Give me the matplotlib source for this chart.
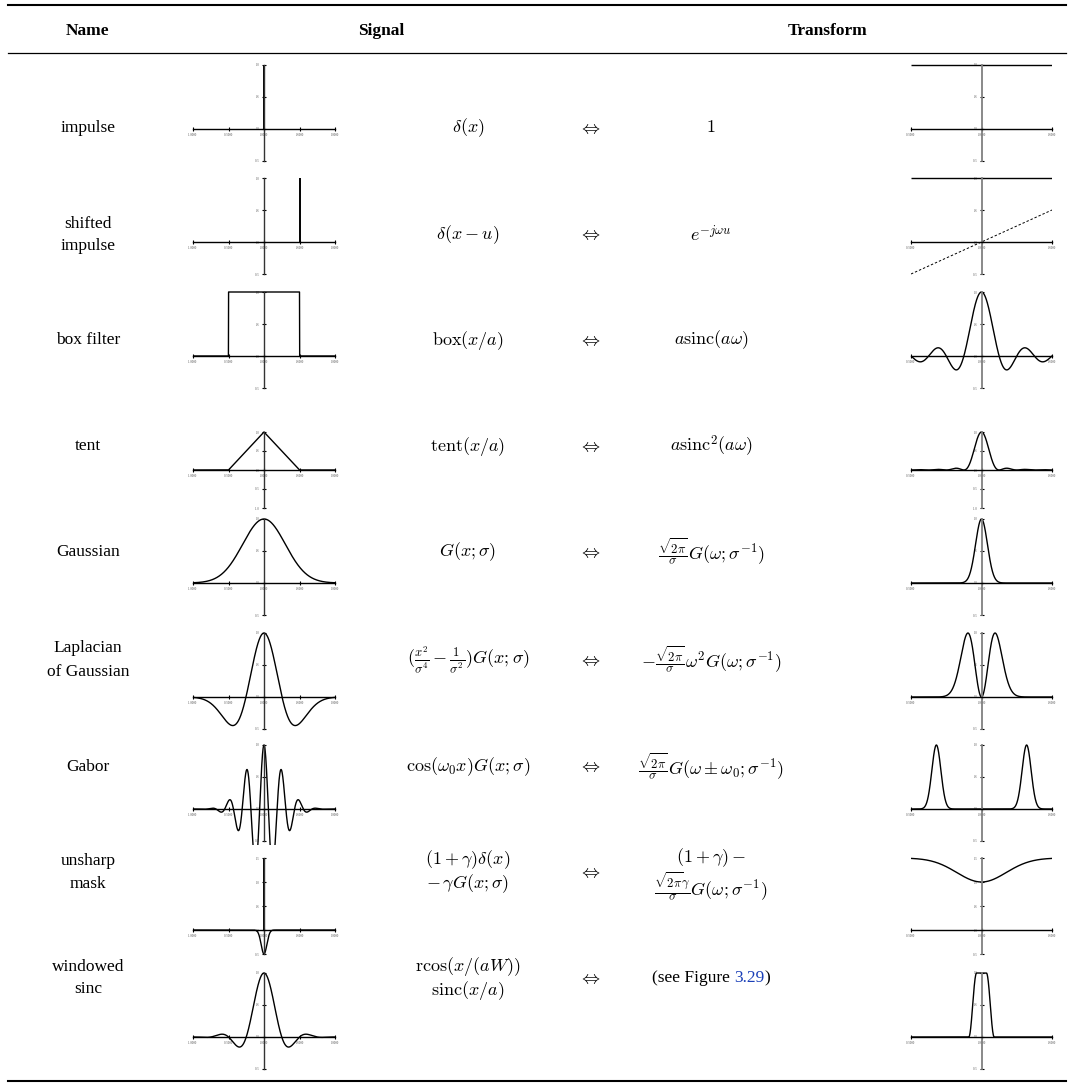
import numpy as np
import matplotlib
matplotlib.use('Agg')
import matplotlib.pyplot as plt
from matplotlib.lines import Line2D

plt.rcParams['font.family'] = ['Liberation Serif', 'DejaVu Serif']
plt.rcParams['mathtext.fontset'] = 'cm'

W, H = 1074, 1084

# ---- table contents ----
headers = ['Name', 'Signal', 'Transform']
names = [['impulse'], ['shifted', 'impulse'], ['box filter'], ['tent'], ['Gaussian'],
         ['Laplacian', 'of Gaussian'], ['Gabor'], ['unsharp', 'mask'], ['windowed', 'sinc']]
signal_tex = [[r'$\delta(x)$'], [r'$\delta(x-u)$'], [r'$\mathrm{box}(x/a)$'],
              [r'$\mathrm{tent}(x/a)$'], [r'$G(x;\sigma)$'],
              [r'$(\frac{x^2}{\sigma^4}-\frac{1}{\sigma^2})G(x;\sigma)$'],
              [r'$\cos(\omega_0 x)G(x;\sigma)$'],
              [r'$(1+\gamma)\delta(x)$', r'$-\,\gamma G(x;\sigma)$'],
              [r'$\mathrm{rcos}(x/(aW))$', r'$\mathrm{sinc}(x/a)$']]
transform_tex = [[r'$1$'], [r'$e^{-j\omega u}$'], [r'$a\mathrm{sinc}(a\omega)$'],
                 [r'$a\mathrm{sinc}^2(a\omega)$'],
                 [r'$\frac{\sqrt{2\pi}}{\sigma}G(\omega;\sigma^{-1})$'],
                 [r'$-\frac{\sqrt{2\pi}}{\sigma}\omega^2G(\omega;\sigma^{-1})$'],
                 [r'$\frac{\sqrt{2\pi}}{\sigma}G(\omega\pm\omega_0;\sigma^{-1})$'],
                 [r'$(1+\gamma)-$', r'$\frac{\sqrt{2\pi}\gamma}{\sigma}G(\omega;\sigma^{-1})$'],
                 None]

signal_xticks = [-1.0, -0.5, 0.0, 0.5, 1.0]
transform_xticks = [-0.5, 0.0, 0.5]
# y range of each row's pair of plots
row_ylims = [(-0.5, 1.0), (-0.5, 1.0), (-0.5, 1.0), (-1.0, 1.0), (-0.5, 1.0),
             (-0.5, 1.0), (-0.5, 1.0), (-0.5, 1.5), (-0.5, 1.0)]

# curve parameters
shift_u = 0.5
box_half = 0.5
tent_half = 0.5
gauss_sigma = 0.30
log_sigma = 0.254
gabor_sigma = 0.2475
gabor_period = 0.246
unsharp_gamma = 0.5
unsharp_sigma = 0.04
wsinc_zero = 0.25
window_half = 1.0

phase_slope = 1.0
box_freq_zero = 0.125
gauss_freq_sigma = 0.042
log_freq_sigma = 0.068
gabor_freq_center = 0.32
gabor_freq_sigma = 0.032
unsharp_freq_sigma = 0.175
wsinc_pass = 0.035
wsinc_stop = 0.09

# ---- layout (pixels) ----
name_x, sig_tex_x, arrow_x, tr_tex_x = 88, 468, 589, 711
sig_x0, sig_x1 = 193, 335
tr_x0, tr_x1 = 911, 1052
axis_py = [129, 242, 356, 470, 583, 697, 809, 930, 1037]
plot_px_h = [96, 96, 96, 76, 96, 96, 96, 96, 96]
text_py = [[128], [224, 246], [340], [446], [552], [648, 672], [767], [861, 884], [967, 989]]
sig_tex_py = [[128], [235], [340], [446], [552], [660], [767], [860, 884], [966, 990]]
tr_tex_py = [[128], [235], [340], [446], [552], [660], [767], [858, 887], [978]]
arrow_py = [129, 236, 341, 447, 553, 661, 768, 873, 979]

fig = plt.figure(figsize=(W / 100, H / 100), dpi=100)


def fx(px):
    return px / W


def fy(py):
    return 1 - py / H


def mini_axes(px0, px1, xlim, ypx, ylim, hpx, xticks, ygray):
    lo, hi = ylim
    ppu = hpx / (hi - lo)
    pad = 0.04 * (hi - lo)
    top = ypx - (hi + pad) * ppu
    bot = ypx - (lo - pad) * ppu
    ax = fig.add_axes([fx(px0), fy(bot), fx(px1) - fx(px0), (bot - top) / H])
    ax.set_xlim(*xlim)
    ax.set_ylim(lo - pad, hi + pad)
    ax.patch.set_visible(False)
    for s in ['top', 'right']:
        ax.spines[s].set_visible(False)
    ax.spines['left'].set_position(('data', 0))
    ax.spines['bottom'].set_position(('data', 0))
    ax.spines['left'].set_bounds(lo, hi)
    ax.spines['bottom'].set_bounds(*xlim)
    ax.spines['bottom'].set_linewidth(1.0)
    ax.spines['left'].set_linewidth(1.3 if ygray else 1.0)
    ax.spines['left'].set_color('0.5' if ygray else '0.2')
    yticks = np.arange(lo, hi + 0.01, 0.5)
    ax.set_xticks(xticks)
    ax.set_yticks(yticks)
    ax.set_xticklabels(['%.4f' % t for t in xticks])
    ax.set_yticklabels(['%.1f' % t for t in yticks])
    ax.tick_params(direction='inout', length=3, width=0.8, labelsize=2.2,
                   pad=1.5, colors='black', labelcolor='0.3')
    return ax


xs = np.linspace(-1, 1, 1601)
ws = np.linspace(-0.5, 0.5, 1601)
lw = 1.0
k = 'black'

for i in range(9):
    sa = mini_axes(sig_x0, sig_x1, (-1, 1), axis_py[i], row_ylims[i], plot_px_h[i],
                   signal_xticks, False)
    ta = mini_axes(tr_x0, tr_x1, (-0.5, 0.5), axis_py[i], row_ylims[i], plot_px_h[i],
                   transform_xticks, True)

    if i == 0:
        sa.vlines(0, 0, 1, color=k, lw=1.4)
        ta.hlines(1, -0.5, 0.5, color=k, lw=lw)
    elif i == 1:
        sa.vlines(shift_u, 0, 1, color=k, lw=1.4)
        ta.hlines(1, -0.5, 0.5, color=k, lw=lw)
        ta.plot(ws, phase_slope * ws, color=k, lw=0.7, ls=(0, (2.5, 2)))
    elif i == 2:
        sa.plot(xs, np.where(np.abs(xs) <= box_half, 1.0, 0.0), color=k, lw=lw)
        ta.plot(ws, np.sinc(ws / box_freq_zero), color=k, lw=lw)
    elif i == 3:
        sa.plot(xs, np.clip(1 - np.abs(xs) / tent_half, 0, None), color=k, lw=lw)
        ta.plot(ws, np.sinc(ws / box_freq_zero) ** 2, color=k, lw=lw)
    elif i == 4:
        sa.plot(xs, np.exp(-xs ** 2 / (2 * gauss_sigma ** 2)), color=k, lw=lw)
        ta.plot(ws, np.exp(-ws ** 2 / (2 * gauss_freq_sigma ** 2)), color=k, lw=lw)
    elif i == 5:
        r = xs ** 2 / log_sigma ** 2
        sa.plot(xs, (1 - r) * np.exp(-r / 2), color=k, lw=lw)
        q = ws ** 2 / (2 * log_freq_sigma ** 2)
        ta.plot(ws, q * np.exp(1 - q), color=k, lw=lw)
    elif i == 6:
        g = np.cos(2 * np.pi * xs / gabor_period) * np.exp(-xs ** 2 / (2 * gabor_sigma ** 2))
        sa.plot(xs, g, color=k, lw=lw)
        gw = (np.exp(-(ws - gabor_freq_center) ** 2 / (2 * gabor_freq_sigma ** 2))
              + np.exp(-(ws + gabor_freq_center) ** 2 / (2 * gabor_freq_sigma ** 2)))
        ta.plot(ws, gw, color=k, lw=lw)
    elif i == 7:
        sa.plot(xs, -unsharp_gamma * np.exp(-xs ** 2 / (2 * unsharp_sigma ** 2)), color=k, lw=lw)
        sa.vlines(0, 0, 1 + unsharp_gamma, color=k, lw=1.4)
        ta.plot(ws, 1 + unsharp_gamma - unsharp_gamma *
                np.exp(-ws ** 2 / (2 * unsharp_freq_sigma ** 2)), color=k, lw=lw)
    elif i == 8:
        win = np.where(np.abs(xs) < window_half,
                       0.5 * (1 + np.cos(np.pi * xs / window_half)), 0.0)
        sa.plot(xs, np.sinc(xs / wsinc_zero) * win, color=k, lw=lw)
        t = np.clip((np.abs(ws) - wsinc_pass) / (wsinc_stop - wsinc_pass), 0, 1)
        ta.plot(ws, np.cos(np.pi * t / 2) ** 2, color=k, lw=lw)

fs = 12.5
# header
fig.text(fx(name_x), fy(31), headers[0], ha='center', va='center', fontsize=fs, fontweight='bold')
fig.text(fx(381), fy(31), headers[1], ha='center', va='center', fontsize=fs, fontweight='bold')
fig.text(fx(828), fy(31), headers[2], ha='center', va='center', fontsize=fs, fontweight='bold')

for i in range(9):
    for line, py in zip(names[i], text_py[i]):
        fig.text(fx(name_x), fy(py), line, ha='center', va='center', fontsize=fs)
    for line, py in zip(signal_tex[i], sig_tex_py[i]):
        fig.text(fx(sig_tex_x), fy(py), line, ha='center', va='center', fontsize=fs + 0.5)
    fig.text(fx(arrow_x), fy(arrow_py[i]), r'$\Leftrightarrow$', ha='center', va='center',
             fontsize=fs + 0.5)
    if transform_tex[i] is not None:
        for line, py in zip(transform_tex[i], tr_tex_py[i]):
            fig.text(fx(tr_tex_x), fy(py), line, ha='center', va='center', fontsize=fs + 0.5)

# "(see Figure 3.29)" with the figure number in link blue
renderer = fig.canvas.get_renderer()
parts = [('(see Figure ', 'black'), ('3.29', '#1a3fb8'), (')', 'black')]
tmp = [fig.text(0, 0, p, fontsize=fs) for p, _ in parts]
widths = [t.get_window_extent(renderer).width for t in tmp]
for t in tmp:
    t.remove()
xcur = tr_tex_x - sum(widths) / 2
for (p, c), wdt in zip(parts, widths):
    fig.text(fx(xcur), fy(tr_tex_py[8][0]), p, ha='left', va='center', fontsize=fs, color=c)
    xcur += wdt

# table rules
for py, w in [(5, 1.5), (53, 0.9), (1081, 1.5)]:
    fig.add_artist(Line2D([fx(8), fx(1066)], [fy(py), fy(py)], transform=fig.transFigure,
                          color='black', lw=w))

fig.savefig('out.png', dpi=100)
